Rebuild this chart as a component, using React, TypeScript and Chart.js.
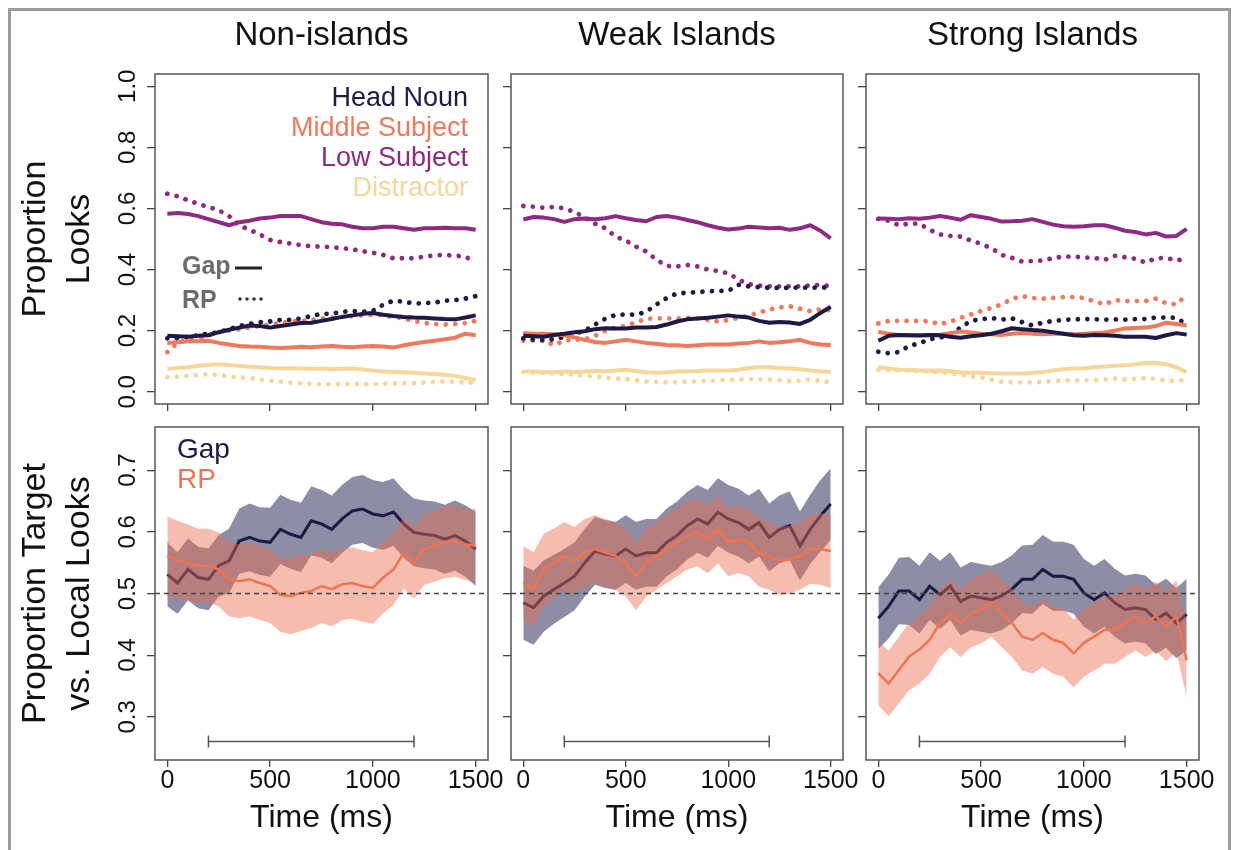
import { useEffect, useRef } from "react";
import { Chart, registerables } from "chart.js";

Chart.register(...registerables);

const FONT = "'Liberation Sans', Arial, Helvetica, sans-serif";
const INK = "#111111";
const AXIS_INK = "#444444";

// ---------- shared axes ----------
const TIME = [0, 50, 100, 150, 200, 250, 300, 350, 400, 450, 500, 550, 600, 650, 700, 750, 800, 850, 900, 950, 1000, 1050, 1100, 1150, 1200, 1250, 1300, 1350, 1400, 1450, 1500];
const X_MIN = -60;
const X_MAX = 1560;
const X_TICKS = [0, 500, 1000, 1500];
const LOOK_MIN = -0.04;
const LOOK_MAX = 1.04;
const LOOK_TICKS = [0, 0.2, 0.4, 0.6, 0.8, 1.0];
const TARGET_MIN = 0.23;
const TARGET_MAX = 0.77;
const TARGET_TICKS = [0.3, 0.4, 0.5, 0.6, 0.7];
const CHANCE = 0.5;
const WINDOW_START = 200;
const WINDOW_END = 1200;
const WINDOW_Y = 0.26;

const CONDITIONS = ["Non-islands", "Weak Islands", "Strong Islands"];
const REGIONS = ["Head Noun", "Middle Subject", "Low Subject", "Distractor"];
const REGION_COLORS = ["#1d1b46", "#f1795b", "#8d2b83", "#f6d699"];
const DEPENDENCIES = ["Gap", "RP"];
const DEP_LINE_COLORS = ["#1b1a44", "#ee7452"];
const DEP_BAND_COLORS = ["rgba(28, 28, 78, 0.5)", "rgba(236, 108, 78, 0.45)"];

// ---------- proportion of looks to each region (Gap = solid, RP = dotted) ----------
const NON_HEAD_GAP = [0.183, 0.182, 0.18, 0.183, 0.185, 0.195, 0.203, 0.21, 0.217, 0.215, 0.21, 0.215, 0.22, 0.225, 0.226, 0.232, 0.238, 0.245, 0.25, 0.255, 0.258, 0.252, 0.248, 0.245, 0.243, 0.242, 0.24, 0.238, 0.237, 0.243, 0.25];
const NON_HEAD_RP = [0.175, 0.175, 0.18, 0.185, 0.19, 0.195, 0.205, 0.215, 0.222, 0.228, 0.23, 0.235, 0.235, 0.24, 0.248, 0.255, 0.255, 0.262, 0.264, 0.262, 0.265, 0.285, 0.298, 0.295, 0.289, 0.29, 0.292, 0.298, 0.3, 0.305, 0.313];
const NON_MID_GAP = [0.16, 0.162, 0.165, 0.165, 0.167, 0.16, 0.155, 0.15, 0.148, 0.147, 0.145, 0.143, 0.145, 0.147, 0.146, 0.148, 0.15, 0.147, 0.146, 0.148, 0.15, 0.148, 0.145, 0.152, 0.158, 0.163, 0.167, 0.172, 0.177, 0.19, 0.185];
const NON_MID_RP = [0.13, 0.16, 0.17, 0.175, 0.185, 0.195, 0.2, 0.205, 0.21, 0.215, 0.22, 0.225, 0.23, 0.232, 0.235, 0.24, 0.242, 0.245, 0.248, 0.25, 0.252, 0.25, 0.245, 0.24, 0.232, 0.225, 0.222, 0.22, 0.222, 0.225, 0.232];
const NON_LOW_GAP = [0.583, 0.585, 0.582, 0.575, 0.565, 0.555, 0.545, 0.555, 0.56, 0.567, 0.57, 0.575, 0.575, 0.575, 0.565, 0.555, 0.55, 0.548, 0.54, 0.535, 0.535, 0.54, 0.54, 0.535, 0.53, 0.535, 0.535, 0.537, 0.535, 0.535, 0.53];
const NON_LOW_RP = [0.648, 0.64, 0.627, 0.615, 0.605, 0.594, 0.575, 0.545, 0.53, 0.515, 0.497, 0.49, 0.485, 0.48, 0.476, 0.475, 0.473, 0.47, 0.466, 0.46, 0.455, 0.448, 0.437, 0.437, 0.437, 0.442, 0.446, 0.448, 0.445, 0.443, 0.421];
const NON_DIST_GAP = [0.075, 0.078, 0.08, 0.085, 0.088, 0.09, 0.088, 0.085, 0.082, 0.08, 0.078, 0.077, 0.077, 0.076, 0.075, 0.075, 0.074, 0.075, 0.076, 0.073, 0.07, 0.066, 0.065, 0.064, 0.062, 0.06, 0.058, 0.056, 0.052, 0.045, 0.038];
const NON_DIST_RP = [0.048, 0.05, 0.052, 0.055, 0.058, 0.055, 0.05, 0.047, 0.045, 0.04, 0.036, 0.033, 0.03, 0.028, 0.026, 0.025, 0.025, 0.025, 0.026, 0.025, 0.025, 0.026, 0.027, 0.028, 0.028, 0.03, 0.032, 0.033, 0.033, 0.03, 0.03];

const WEAK_HEAD_GAP = [0.183, 0.182, 0.18, 0.186, 0.19, 0.195, 0.198, 0.205, 0.208, 0.207, 0.207, 0.21, 0.21, 0.212, 0.22, 0.23, 0.237, 0.24, 0.242, 0.246, 0.25, 0.246, 0.243, 0.232, 0.226, 0.228, 0.227, 0.222, 0.235, 0.258, 0.278];
const WEAK_HEAD_RP = [0.175, 0.17, 0.168, 0.172, 0.18, 0.19, 0.2, 0.22, 0.239, 0.252, 0.253, 0.252, 0.262, 0.286, 0.307, 0.322, 0.324, 0.326, 0.329, 0.33, 0.33, 0.35, 0.345, 0.342, 0.34, 0.34, 0.34, 0.342, 0.34, 0.342, 0.34];
const WEAK_MID_GAP = [0.192, 0.19, 0.19, 0.188, 0.185, 0.178, 0.17, 0.163, 0.16, 0.165, 0.17, 0.165, 0.16, 0.157, 0.153, 0.152, 0.15, 0.152, 0.155, 0.155, 0.155, 0.158, 0.16, 0.165, 0.16, 0.162, 0.165, 0.17, 0.16, 0.155, 0.153];
const WEAK_MID_RP = [0.167, 0.168, 0.17, 0.152, 0.168, 0.17, 0.172, 0.183, 0.2, 0.21, 0.215, 0.228, 0.239, 0.24, 0.24, 0.24, 0.242, 0.24, 0.235, 0.23, 0.235, 0.242, 0.25, 0.259, 0.269, 0.276, 0.28, 0.272, 0.264, 0.27, 0.266];
const WEAK_LOW_GAP = [0.564, 0.572, 0.57, 0.565, 0.556, 0.565, 0.567, 0.565, 0.568, 0.575, 0.568, 0.562, 0.558, 0.572, 0.575, 0.57, 0.562, 0.555, 0.545, 0.537, 0.531, 0.534, 0.54, 0.538, 0.535, 0.537, 0.53, 0.535, 0.545, 0.527, 0.502];
const WEAK_LOW_RP = [0.608, 0.606, 0.602, 0.605, 0.6, 0.589, 0.57, 0.55, 0.535, 0.508, 0.495, 0.475, 0.459, 0.432, 0.412, 0.41, 0.415, 0.41, 0.4, 0.395, 0.388, 0.367, 0.352, 0.348, 0.345, 0.345, 0.345, 0.345, 0.348, 0.35, 0.345];
const WEAK_DIST_GAP = [0.066, 0.066, 0.065, 0.064, 0.066, 0.065, 0.066, 0.068, 0.067, 0.07, 0.072, 0.068, 0.064, 0.062, 0.064, 0.066, 0.067, 0.068, 0.07, 0.07, 0.07, 0.072, 0.078, 0.08, 0.08, 0.078, 0.076, 0.074, 0.07, 0.067, 0.065];
const WEAK_DIST_RP = [0.064, 0.063, 0.062, 0.06, 0.058, 0.056, 0.053, 0.05, 0.046, 0.043, 0.042, 0.038, 0.034, 0.032, 0.031, 0.031, 0.033, 0.035, 0.036, 0.037, 0.04, 0.04, 0.041, 0.04, 0.04, 0.038, 0.035, 0.036, 0.04, 0.036, 0.03];

const STRONG_HEAD_GAP = [0.167, 0.183, 0.186, 0.185, 0.184, 0.186, 0.185, 0.18, 0.177, 0.182, 0.185, 0.19, 0.198, 0.208, 0.205, 0.202, 0.2, 0.195, 0.19, 0.185, 0.183, 0.186, 0.185, 0.183, 0.18, 0.18, 0.18, 0.176, 0.185, 0.192, 0.187];
const STRONG_HEAD_RP = [0.131, 0.126, 0.13, 0.15, 0.159, 0.172, 0.177, 0.19, 0.21, 0.232, 0.237, 0.242, 0.236, 0.24, 0.228, 0.217, 0.226, 0.232, 0.235, 0.237, 0.238, 0.237, 0.236, 0.237, 0.236, 0.238, 0.238, 0.243, 0.243, 0.242, 0.22];
const STRONG_MID_GAP = [0.196, 0.19, 0.186, 0.185, 0.185, 0.186, 0.187, 0.192, 0.197, 0.194, 0.19, 0.188, 0.186, 0.19, 0.192, 0.19, 0.188, 0.19, 0.19, 0.188, 0.19, 0.192, 0.194, 0.2, 0.207, 0.209, 0.21, 0.215, 0.226, 0.222, 0.217];
const STRONG_MID_RP = [0.224, 0.232, 0.232, 0.232, 0.232, 0.23, 0.221, 0.23, 0.242, 0.253, 0.264, 0.275, 0.286, 0.304, 0.313, 0.307, 0.305, 0.307, 0.31, 0.31, 0.307, 0.296, 0.286, 0.3, 0.297, 0.297, 0.297, 0.305, 0.29, 0.286, 0.318];
const STRONG_LOW_GAP = [0.567, 0.566, 0.565, 0.568, 0.566, 0.57, 0.575, 0.57, 0.563, 0.578, 0.572, 0.566, 0.557, 0.558, 0.56, 0.565, 0.556, 0.547, 0.542, 0.54, 0.542, 0.545, 0.545, 0.537, 0.527, 0.523, 0.515, 0.52, 0.508, 0.51, 0.533];
const STRONG_LOW_RP = [0.566, 0.56, 0.545, 0.55, 0.55, 0.53, 0.515, 0.51, 0.508, 0.495, 0.484, 0.47, 0.448, 0.438, 0.426, 0.428, 0.43, 0.437, 0.443, 0.442, 0.44, 0.438, 0.432, 0.445, 0.44, 0.435, 0.423, 0.437, 0.438, 0.43, 0.436];
const STRONG_DIST_GAP = [0.08, 0.076, 0.072, 0.071, 0.07, 0.069, 0.07, 0.067, 0.064, 0.062, 0.062, 0.061, 0.06, 0.06, 0.06, 0.062, 0.065, 0.07, 0.074, 0.076, 0.077, 0.08, 0.083, 0.085, 0.087, 0.09, 0.094, 0.095, 0.09, 0.08, 0.064];
const STRONG_DIST_RP = [0.072, 0.071, 0.07, 0.07, 0.068, 0.066, 0.064, 0.06, 0.055, 0.05, 0.046, 0.04, 0.033, 0.031, 0.031, 0.031, 0.032, 0.035, 0.037, 0.037, 0.037, 0.038, 0.04, 0.044, 0.04, 0.042, 0.045, 0.042, 0.037, 0.034, 0.042];

// ---------- proportion target vs. local looks (mean and 95% CI half-width) ----------
const NON_GAP_MEAN = [0.531, 0.517, 0.539, 0.526, 0.523, 0.545, 0.553, 0.585, 0.591, 0.585, 0.583, 0.604, 0.596, 0.591, 0.618, 0.613, 0.604, 0.621, 0.634, 0.637, 0.629, 0.626, 0.632, 0.613, 0.599, 0.596, 0.594, 0.588, 0.594, 0.585, 0.572];
const NON_GAP_CI = [0.052, 0.05, 0.05, 0.05, 0.05, 0.05, 0.052, 0.053, 0.055, 0.055, 0.056, 0.056, 0.056, 0.056, 0.056, 0.055, 0.055, 0.055, 0.055, 0.055, 0.055, 0.055, 0.055, 0.055, 0.055, 0.055, 0.055, 0.056, 0.057, 0.058, 0.06];
const NON_RP_MEAN = [0.56, 0.555, 0.55, 0.545, 0.545, 0.539, 0.523, 0.52, 0.523, 0.517, 0.512, 0.498, 0.496, 0.501, 0.504, 0.512, 0.507, 0.515, 0.517, 0.512, 0.509, 0.526, 0.539, 0.566, 0.55, 0.572, 0.577, 0.583, 0.585, 0.58, 0.577];
const NON_RP_CI = [0.065, 0.063, 0.062, 0.06, 0.06, 0.06, 0.06, 0.06, 0.06, 0.06, 0.06, 0.06, 0.062, 0.062, 0.06, 0.06, 0.06, 0.058, 0.058, 0.058, 0.058, 0.058, 0.058, 0.058, 0.058, 0.058, 0.058, 0.058, 0.058, 0.058, 0.06];

const WEAK_GAP_MEAN = [0.485, 0.477, 0.496, 0.507, 0.517, 0.528, 0.55, 0.569, 0.564, 0.561, 0.572, 0.561, 0.566, 0.566, 0.583, 0.594, 0.61, 0.621, 0.613, 0.632, 0.621, 0.615, 0.604, 0.615, 0.591, 0.604, 0.61, 0.577, 0.604, 0.626, 0.645];
const WEAK_GAP_CI = [0.06, 0.06, 0.058, 0.056, 0.055, 0.055, 0.055, 0.055, 0.055, 0.055, 0.055, 0.055, 0.055, 0.055, 0.055, 0.055, 0.055, 0.055, 0.055, 0.055, 0.055, 0.055, 0.055, 0.055, 0.055, 0.055, 0.056, 0.056, 0.056, 0.058, 0.058];
const WEAK_RP_MEAN = [0.517, 0.507, 0.539, 0.55, 0.561, 0.553, 0.566, 0.572, 0.566, 0.561, 0.55, 0.528, 0.55, 0.561, 0.572, 0.583, 0.594, 0.599, 0.588, 0.604, 0.583, 0.588, 0.583, 0.566, 0.561, 0.553, 0.555, 0.561, 0.572, 0.572, 0.569];
const WEAK_RP_CI = [0.06, 0.06, 0.058, 0.056, 0.055, 0.055, 0.055, 0.055, 0.055, 0.055, 0.055, 0.055, 0.055, 0.055, 0.055, 0.055, 0.055, 0.055, 0.055, 0.055, 0.055, 0.055, 0.055, 0.055, 0.055, 0.055, 0.055, 0.055, 0.056, 0.058, 0.06];

const STRONG_GAP_MEAN = [0.46, 0.479, 0.504, 0.504, 0.49, 0.512, 0.498, 0.512, 0.487, 0.496, 0.493, 0.49, 0.496, 0.507, 0.523, 0.523, 0.539, 0.528, 0.528, 0.523, 0.501, 0.49, 0.501, 0.485, 0.474, 0.477, 0.474, 0.458, 0.468, 0.452, 0.466];
const STRONG_GAP_CI = [0.05, 0.052, 0.054, 0.055, 0.055, 0.055, 0.055, 0.055, 0.055, 0.055, 0.055, 0.055, 0.055, 0.055, 0.055, 0.056, 0.056, 0.056, 0.056, 0.056, 0.055, 0.055, 0.055, 0.055, 0.055, 0.055, 0.055, 0.056, 0.056, 0.057, 0.058];
const STRONG_RP_MEAN = [0.371, 0.354, 0.376, 0.398, 0.409, 0.425, 0.452, 0.468, 0.452, 0.468, 0.474, 0.485, 0.468, 0.452, 0.43, 0.425, 0.436, 0.425, 0.42, 0.403, 0.42, 0.43, 0.441, 0.441, 0.452, 0.463, 0.452, 0.463, 0.447, 0.463, 0.392];
const STRONG_RP_CI = [0.052, 0.053, 0.054, 0.055, 0.055, 0.055, 0.055, 0.055, 0.055, 0.055, 0.055, 0.055, 0.055, 0.055, 0.055, 0.055, 0.055, 0.055, 0.055, 0.055, 0.055, 0.055, 0.055, 0.055, 0.055, 0.055, 0.055, 0.056, 0.057, 0.058, 0.06];

// [condition][region] -> [gap series, rp series]
const LOOKS_BY_CONDITION = [
  [[NON_HEAD_GAP, NON_HEAD_RP], [NON_MID_GAP, NON_MID_RP], [NON_LOW_GAP, NON_LOW_RP], [NON_DIST_GAP, NON_DIST_RP]],
  [[WEAK_HEAD_GAP, WEAK_HEAD_RP], [WEAK_MID_GAP, WEAK_MID_RP], [WEAK_LOW_GAP, WEAK_LOW_RP], [WEAK_DIST_GAP, WEAK_DIST_RP]],
  [[STRONG_HEAD_GAP, STRONG_HEAD_RP], [STRONG_MID_GAP, STRONG_MID_RP], [STRONG_LOW_GAP, STRONG_LOW_RP], [STRONG_DIST_GAP, STRONG_DIST_RP]],
];
// [condition] -> [[gap mean, gap ci], [rp mean, rp ci]]
const TARGET_BY_CONDITION = [
  [[NON_GAP_MEAN, NON_GAP_CI], [NON_RP_MEAN, NON_RP_CI]],
  [[WEAK_GAP_MEAN, WEAK_GAP_CI], [WEAK_RP_MEAN, WEAK_RP_CI]],
  [[STRONG_GAP_MEAN, STRONG_GAP_CI], [STRONG_RP_MEAN, STRONG_RP_CI]],
];

// ---------- page layout (px) ----------
const BOX_LEFT = [155, 511, 866];
const BOX_RIGHT = [488, 843, 1199];
const ROW_TOP = [74, 427];
const ROW_BOTTOM = [404, 760];

const series = (values: number[], offset?: number[], sign = 1) =>
  TIME.map((x, i) => ({ x, y: values[i] + (offset ? sign * offset[i] : 0) }));

// plot-region frame drawn around each panel
const framePlugin = {
  id: "panelFrame",
  afterDraw(chart: any) {
    const { ctx, chartArea: a } = chart;
    ctx.save();
    ctx.strokeStyle = "#555555";
    ctx.lineWidth = 1.5;
    ctx.strokeRect(a.left, a.top, a.right - a.left, a.bottom - a.top);
    ctx.restore();
  },
};

// region key and line-type key in the first "looks" panel
const regionKeyPlugin = {
  id: "regionKey",
  afterDatasetsDraw(chart: any) {
    const { ctx, chartArea: a } = chart;
    ctx.save();
    ctx.font = `27px ${FONT}`;
    ctx.textAlign = "right";
    ctx.textBaseline = "middle";
    REGIONS.forEach((name, i) => {
      ctx.fillStyle = REGION_COLORS[i];
      ctx.fillText(name, a.right - 20, a.top + 25 + i * 30);
    });
    ctx.font = `bold 25px ${FONT}`;
    ctx.textAlign = "left";
    ctx.fillStyle = "#6c6c6c";
    ctx.fillText(DEPENDENCIES[0], a.left + 27, a.top + 193);
    ctx.fillText(DEPENDENCIES[1], a.left + 27, a.top + 227);
    ctx.strokeStyle = "#222222";
    ctx.lineWidth = 3;
    ctx.beginPath();
    ctx.moveTo(a.left + 80, a.top + 194);
    ctx.lineTo(a.left + 107, a.top + 194);
    ctx.stroke();
    ctx.fillStyle = "#333333";
    for (let k = 0; k < 4; k++) {
      ctx.beginPath();
      ctx.arc(a.left + 85 + k * 7, a.top + 225, 1.8, 0, Math.PI * 2);
      ctx.fill();
    }
    ctx.restore();
  },
};

// Gap / RP key in the first "target" panel
const depKeyPlugin = {
  id: "depKey",
  afterDatasetsDraw(chart: any) {
    const { ctx, chartArea: a } = chart;
    ctx.save();
    ctx.font = `28px ${FONT}`;
    ctx.textAlign = "left";
    ctx.textBaseline = "middle";
    DEPENDENCIES.forEach((name, i) => {
      ctx.fillStyle = DEP_LINE_COLORS[i];
      ctx.fillText(name, a.left + 22, a.top + 23 + i * 30);
    });
    ctx.restore();
  },
};

function xAxis(showLabels: boolean, height: number) {
  return {
    type: "linear",
    position: "bottom",
    min: X_MIN,
    max: X_MAX,
    afterBuildTicks: (s: any) => {
      s.ticks = X_TICKS.map((v) => ({ value: v }));
    },
    afterFit: (s: any) => {
      s.height = height;
    },
    grid: { drawOnChartArea: false, drawTicks: true, tickLength: 7, color: AXIS_INK, lineWidth: 1.3 },
    border: { display: false },
    ticks: {
      display: showLabels,
      autoSkip: false,
      minRotation: 0,
      maxRotation: 0,
      padding: 1.5,
      color: INK,
      font: { family: FONT, size: 25, lineHeight: 1 },
      callback: (v: any) => String(v),
    },
    title: {
      display: showLabels,
      text: "Time (ms)",
      color: INK,
      font: { family: FONT, size: 32, lineHeight: 1 },
      padding: { top: 0, bottom: 14 },
    },
  };
}

function yAxis(looks: boolean, showLabels: boolean, width: number) {
  return {
    type: "linear",
    position: "left",
    min: looks ? LOOK_MIN : TARGET_MIN,
    max: looks ? LOOK_MAX : TARGET_MAX,
    afterBuildTicks: (s: any) => {
      s.ticks = (looks ? LOOK_TICKS : TARGET_TICKS).map((v) => ({ value: v }));
    },
    afterFit: (s: any) => {
      s.width = width;
    },
    grid: { drawOnChartArea: false, drawTicks: true, tickLength: 8, color: AXIS_INK, lineWidth: 1.3 },
    border: { display: false },
    ticks: {
      display: showLabels,
      minRotation: 90,
      maxRotation: 90,
      crossAlign: "center",
      padding: 2,
      color: INK,
      font: { family: FONT, size: 24, lineHeight: 1.2 },
      callback: (v: any) => Number(v).toFixed(1),
    },
    title: {
      display: showLabels,
      text: looks ? ["Proportion", "Looks"] : ["Proportion Target", "vs. Local Looks"],
      color: INK,
      font: { family: FONT, size: 34, lineHeight: 1.3 },
      padding: { top: 3.5, bottom: 0 },
    },
  };
}

function titleAxis(text: string, height: number) {
  return {
    type: "linear",
    position: "top",
    min: X_MIN,
    max: X_MAX,
    afterFit: (s: any) => {
      s.height = height;
    },
    grid: { display: false },
    border: { display: false },
    ticks: { display: false },
    title: {
      display: true,
      text,
      color: INK,
      font: { family: FONT, size: 33, lineHeight: 1.2 },
      padding: { top: 16, bottom: 0 },
    },
  };
}

function looksDatasets(c: number) {
  const regions = LOOKS_BY_CONDITION[c];
  const solid = regions.map(([gap], r) => ({
    label: `${REGIONS[r]} ${DEPENDENCIES[0]}`,
    data: series(gap),
    borderColor: REGION_COLORS[r],
    borderWidth: 4,
    borderJoinStyle: "round",
  }));
  const dotted = regions.map(([, rp], r) => ({
    label: `${REGIONS[r]} ${DEPENDENCIES[1]}`,
    data: series(rp),
    borderColor: REGION_COLORS[r],
    borderWidth: 4.8,
    borderDash: [0.01, 9.5],
    borderCapStyle: "round",
  }));
  // first entry is drawn on top
  return [solid[0], solid[2], solid[1], solid[3], dotted[0], dotted[2], dotted[1], dotted[3]].map((d) => ({
    ...d,
    pointRadius: 0,
    tension: 0,
    fill: false,
  }));
}

function targetDatasets(c: number) {
  const [[gap, gapCi], [rp, rpCi]] = TARGET_BY_CONDITION[c];
  const hidden = "rgba(0,0,0,0)";
  const band = (values: number[], ci: number[], color: string, name: string) => [
    { label: `${name} upper`, data: series(values, ci, 1), borderColor: hidden, borderWidth: 0, fill: "+1", backgroundColor: color },
    { label: `${name} lower`, data: series(values, ci, -1), borderColor: hidden, borderWidth: 0, fill: false },
  ];
  const sets: any[] = [
    {
      label: "analysis window",
      data: [
        { x: WINDOW_START, y: WINDOW_Y },
        { x: WINDOW_END, y: WINDOW_Y },
      ],
      borderColor: "#555555",
      borderWidth: 1.5,
      pointStyle: "line",
      pointRotation: 90,
      pointRadius: 6,
      pointBorderColor: "#555555",
      pointBorderWidth: 1.5,
      fill: false,
    },
    {
      label: "chance",
      data: [
        { x: X_MIN, y: CHANCE },
        { x: X_MAX, y: CHANCE },
      ],
      borderColor: "#444444",
      borderWidth: 1.3,
      borderDash: [5, 4],
      pointRadius: 0,
      fill: false,
    },
    { label: DEPENDENCIES[1], data: series(rp), borderColor: DEP_LINE_COLORS[1], borderWidth: 2.5, pointRadius: 0, fill: false },
    ...band(rp, rpCi, DEP_BAND_COLORS[1], DEPENDENCIES[1]),
    { label: DEPENDENCIES[0], data: series(gap), borderColor: DEP_LINE_COLORS[0], borderWidth: 3, pointRadius: 0, fill: false },
    ...band(gap, gapCi, DEP_BAND_COLORS[0], DEPENDENCIES[0]),
  ];
  return sets.map((d) => ({ tension: 0, pointRadius: 0, ...d }));
}

type Panel = { row: number; col: number; left: number; top: number; width: number; height: number };

const PANELS: Panel[] = [];
[0, 1].forEach((row) => {
  [0, 1, 2].forEach((col) => {
    const left = col === 0 ? 10 : BOX_LEFT[col] - 22;
    const rightPad = row === 0 ? 6 : 24;
    const top = row === 0 ? 0 : ROW_TOP[1] - 24;
    const height = row === 0 ? ROW_BOTTOM[0] + 20 : ROW_BOTTOM[1] - top + 88;
    PANELS.push({ row, col, left, top, width: BOX_RIGHT[col] + rightPad - left, height });
  });
});

function buildConfig(p: Panel): any {
  const yWidth = BOX_LEFT[p.col] - p.left;
  const first = p.col === 0;
  const plugins: any[] = [framePlugin];
  if (first && p.row === 0) plugins.push(regionKeyPlugin);
  if (first && p.row === 1) plugins.push(depKeyPlugin);
  const scales: any =
    p.row === 0
      ? {
          x: xAxis(false, 20),
          xTop: titleAxis(CONDITIONS[p.col], ROW_TOP[0] - p.top),
          y: yAxis(true, first, yWidth),
        }
      : {
          x: xAxis(true, 88),
          y: yAxis(false, first, yWidth),
        };
  return {
    type: "line",
    data: { datasets: p.row === 0 ? looksDatasets(p.col) : targetDatasets(p.col) },
    options: {
      responsive: true,
      maintainAspectRatio: false,
      animation: false,
      events: [],
      layout: { padding: { left: 0, right: p.row === 0 ? 6 : 24, top: p.row === 0 ? 0 : 24, bottom: 0 } },
      plugins: { legend: { display: false }, tooltip: { enabled: false }, title: { display: false } },
      scales,
    },
    plugins,
  };
}

export default function App() {
  const refs = useRef<(HTMLCanvasElement | null)[]>([]);

  useEffect(() => {
    const charts = PANELS.map((p, i) => new Chart(refs.current[i] as HTMLCanvasElement, buildConfig(p)));
    return () => charts.forEach((ch) => ch.destroy());
  }, []);

  return (
    <div style={{ position: "absolute", left: 0, top: 0, width: 1238, height: 850, overflow: "hidden", background: "#ffffff" }}>
      <div
        style={{
          position: "absolute",
          left: 8,
          top: 8,
          width: 1223,
          height: 900,
          border: "3px solid #9c9c9c",
          boxSizing: "border-box",
        }}
      />
      {PANELS.map((p, i) => (
        <div key={i} style={{ position: "absolute", left: p.left, top: p.top, width: p.width, height: p.height }}>
          <canvas ref={(el) => { refs.current[i] = el; }} />
        </div>
      ))}
    </div>
  );
}
